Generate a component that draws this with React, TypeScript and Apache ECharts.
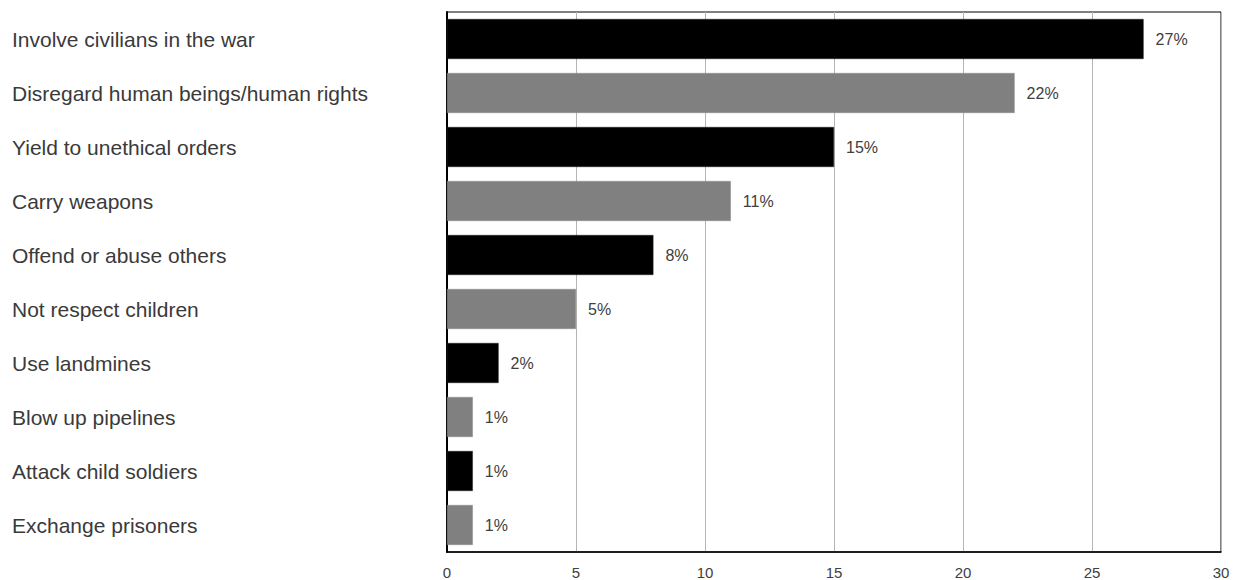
import React, { useEffect, useRef } from "react";
import * as echarts from "echarts";

const categories = [
  "Involve civilians in the war",
  "Disregard human beings/human rights",
  "Yield to unethical orders",
  "Carry weapons",
  "Offend or abuse others",
  "Not respect children",
  "Use landmines",
  "Blow up pipelines",
  "Attack child soldiers",
  "Exchange prisoners",
];
const values = [27, 22, 15, 11, 8, 5, 2, 1, 1, 1];
const barColors = ["#000000", "#808080"];
const xTicks = { min: 0, max: 30, interval: 5 };

const FONT = "Liberation Sans, Arial, sans-serif";

export default function App() {
  const ref = useRef<HTMLDivElement>(null);
  useEffect(() => {
    if (!ref.current) return;
    const chart = echarts.init(ref.current, undefined, { renderer: "svg" });
    chart.setOption({
      animation: false,
      backgroundColor: "#ffffff",
      grid: {
        left: 447,
        right: 16,
        top: 12,
        bottom: 28,
        show: true,
        borderColor: "#000000",
        borderWidth: 1,
        containLabel: false,
      },
      xAxis: {
        type: "value",
        min: xTicks.min,
        max: xTicks.max,
        interval: xTicks.interval,
        axisLine: { show: true, lineStyle: { color: "#000000", width: 1.5 } },
        axisTick: { show: false },
        axisLabel: {
          color: "#404040",
          fontSize: 15,
          fontFamily: FONT,
          margin: 13,
        },
        splitLine: { show: true, lineStyle: { color: "#b5b5b5", width: 1 } },
      },
      yAxis: {
        type: "category",
        data: categories,
        inverse: true,
        axisLine: { show: true, lineStyle: { color: "#000000", width: 2 } },
        axisTick: { show: false },
        axisLabel: {
          align: "left",
          margin: 435,
          color: "#3a3a3a",
          fontSize: 21,
          fontFamily: FONT,
        },
        splitLine: { show: false },
      },
      series: [
        {
          type: "bar",
          barCategoryGap: "26%",
          data: values.map((v, i) => ({
            value: v,
            itemStyle: {
              color: barColors[i % 2],
              borderColor: i % 2 === 0 ? "#222222" : "#8a8a8a",
              borderWidth: 0.5,
            },
          })),
          label: {
            show: true,
            position: "right",
            distance: 12,
            formatter: "{c}%",
            color: "#404040",
            fontSize: 16,
            fontFamily: FONT,
          },
        },
      ],
    });
    return () => chart.dispose();
  }, []);
  return (
    <div
      ref={ref}
      style={{ width: 1237, height: 580, position: "absolute", left: 0, top: 0 }}
    />
  );
}
